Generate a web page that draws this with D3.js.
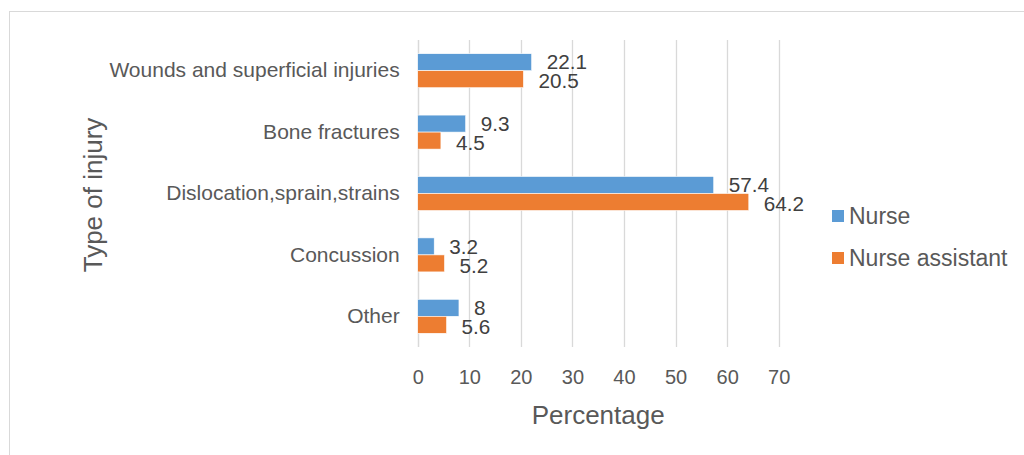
<!DOCTYPE html>
<html>
<head>
<meta charset="utf-8">
<script src="https://cdn.jsdelivr.net/npm/d3@7"></script>
<style>
  html, body { margin: 0; padding: 0; background: #fff; }
  svg { display: block; font-family: "Liberation Sans", Arial, sans-serif; }
</style>
</head>
<body>
<svg id="chart" width="1024" height="455"></svg>
<script>
const categories = ["Wounds and superficial injuries", "Bone fractures", "Dislocation,sprain,strains", "Concussion", "Other"];
const seriesNames = ["Nurse", "Nurse assistant"];
const nurseValues = [22.1, 9.3, 57.4, 3.2, 8];
const assistantValues = [20.5, 4.5, 64.2, 5.2, 5.6];
const xTicks = [0, 10, 20, 30, 40, 50, 60, 70];
const colors = ["#5B9BD5", "#ED7D31"];

const seriesValues = [nurseValues, assistantValues];
const svg = d3.select("#chart");
const textColor = "#595959";
const gridColor = "#d9d9d9";

// outer border
svg.append("rect")
  .attr("x", 9.5).attr("y", 11.5)
  .attr("width", 1100).attr("height", 500)
  .attr("fill", "none").attr("stroke", gridColor).attr("stroke-width", 1);

const plot = { left: 417.7, right: 778.7, top: 40, bottom: 347 };

const x = d3.scaleLinear().domain([0, 70]).range([plot.left, plot.right]);
const y0 = d3.scaleBand().domain(categories).range([plot.top, plot.bottom])
  .paddingInner(0.446).paddingOuter(0.223);
const y1 = d3.scaleBand().domain(seriesNames).range([0, y0.bandwidth()]);

// gridlines
svg.append("g").selectAll("line").data(xTicks).join("line")
  .attr("x1", d => Math.round(x(d)) + 0.5).attr("x2", d => Math.round(x(d)) + 0.5)
  .attr("y1", plot.top).attr("y2", plot.bottom)
  .attr("stroke", gridColor).attr("stroke-width", d => d === 0 ? 1.5 : 1.3);

// x axis tick labels
const xAxis = d3.axisBottom(x).tickValues(xTicks).tickSize(0).tickPadding(0);
const gx = svg.append("g").attr("transform", `translate(0, ${plot.bottom + 30})`).call(xAxis);
gx.select(".domain").remove();
gx.selectAll("text")
  .attr("dy", "0.35em").attr("y", 0)
  .attr("font-size", 20).attr("fill", textColor)
  .attr("font-family", "Liberation Sans, Arial, sans-serif");

// y axis category labels
const yAxis = d3.axisLeft(y0).tickSize(0).tickPadding(18);
const gy = svg.append("g").attr("transform", `translate(${plot.left}, 0)`).call(yAxis);
gy.select(".domain").remove();
gy.selectAll("text")
  .attr("font-size", 21).attr("fill", textColor)
  .attr("font-family", "Liberation Sans, Arial, sans-serif");

// bars
const groups = svg.append("g").selectAll("g").data(categories).join("g")
  .attr("transform", d => `translate(0, ${y0(d)})`);

groups.selectAll("rect")
  .data((c, i) => seriesNames.map((s, k) => ({ s, k, v: seriesValues[k][i] })))
  .join("rect")
  .attr("x", x(0))
  .attr("y", d => y1(d.s))
  .attr("width", d => x(d.v) - x(0))
  .attr("height", y1.bandwidth())
  .attr("fill", d => colors[d.k])
  .attr("stroke", "#fff").attr("stroke-width", 0.6);

// value labels
groups.selectAll("text.val")
  .data((c, i) => seriesNames.map((s, k) => ({ s, k, v: seriesValues[k][i] })))
  .join("text")
  .attr("class", "val")
  .attr("x", d => x(d.v) + 15)
  .attr("y", d => y1(d.s) + y1.bandwidth() / 2 + (d.k === 0 ? 0 : 2))
  .attr("dy", "0.35em")
  .attr("font-size", 20.7)
  .attr("fill", "#404040")
  .text(d => d.v);

// axis titles
svg.append("text")
  .attr("x", (plot.left + plot.right) / 2)
  .attr("y", 424)
  .attr("text-anchor", "middle")
  .attr("font-size", 26).attr("fill", textColor)
  .text("Percentage");

svg.append("text")
  .attr("transform", "translate(102, 195) rotate(-90)")
  .attr("text-anchor", "middle")
  .attr("font-size", 26).attr("fill", textColor)
  .text("Type of injury");

// legend
const legend = svg.append("g").selectAll("g").data(seriesNames).join("g")
  .attr("transform", (d, i) => `translate(832, ${216 + i * 42})`);
legend.append("rect")
  .attr("x", 0).attr("y", -6).attr("width", 12).attr("height", 12)
  .attr("fill", (d, i) => colors[i]);
legend.append("text")
  .attr("x", 17).attr("y", 0).attr("dy", "0.35em")
  .attr("font-size", 23).attr("fill", textColor)
  .text(d => d);
</script>
</body>
</html>
